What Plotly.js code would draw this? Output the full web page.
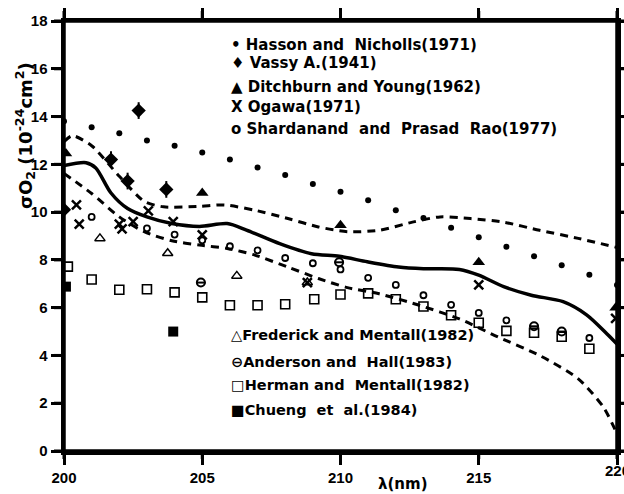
<!DOCTYPE html>
<html><head><meta charset="utf-8">
<script src="https://cdn.plot.ly/plotly-3.0.1.min.js"></script>
<style>html,body{margin:0;padding:0;background:#fff}#chart{width:624px;height:494px}</style>
</head><body><div id="chart"></div>
<script>
// Hasson and Nicholls (1971)
const hassonX = [200,201,202,203,204,205,206,207,208,209,210,211,212,213,214,215,216,217,218,219,220];
const hassonY = [13.8,13.55,13.3,13.0,12.78,12.5,12.2,11.87,11.55,11.18,10.85,10.5,10.08,9.75,9.35,8.95,8.55,8.15,7.78,7.38,6.95];
// Vassy A. (1941)
const vassyX = [200,201.7,202.3,202.7,203.7];
const vassyY = [10.1,12.2,11.3,14.25,10.95];
// Ditchburn and Young (1962)
const ditchX = [200.07,205,210,215,219.95];
const ditchY = [12.45,10.8,9.45,7.9,6.0];
// Ogawa (1971)
const ogawaX = [200.45,200.55,202.0,202.1,202.5,203.05,203.95,205,208.8,215,219.95];
const ogawaY = [10.3,9.5,9.5,9.3,9.6,10.05,9.6,9.05,7.05,6.95,5.55];
// Shardanand and Prasad Rao (1977)
const shardX = [201.0,203,204,205,206,207,208,209,210,211,212,213,214,215,216,219];
const shardY = [9.8,9.32,9.06,8.82,8.57,8.4,8.08,7.86,7.6,7.25,6.95,6.52,6.12,5.78,5.47,4.73];
// Frederick and Mentall (1982)
const fredX = [201.3,203.75,206.25,208.8];
const fredY = [8.9,8.28,7.33,7.05];
// Anderson and Hall (1983)
const andX = [204.95,209.95,217,218];
const andY = [7.05,7.9,5.22,5.0];
// Herman and Mentall (1982)
const hermX = [200.14,201,202,203,204,205,206,207,208,209.05,210,211,212,213,214,215,216,217,218,219];
const hermY = [7.72,7.18,6.75,6.77,6.64,6.43,6.1,6.1,6.14,6.35,6.55,6.6,6.35,6.05,5.68,5.37,5.03,4.95,4.78,4.28];
// Chueng et al. (1984)
const chuengX = [200.07,203.95];
const chuengY = [6.88,5.0];
// Solid (recommended) curve
const solidX = [200,200.8,201.15,201.7,202.3,203,203.9,204.9,205.9,206.6,207.8,208.95,209.96,210.97,212.1,213,214.3,215,215.9,216.9,218.05,218.9,219.64,220];
const solidY = [11.95,12.07,11.85,10.8,10.15,9.8,9.52,9.4,9.52,9.25,8.68,8.26,8.15,7.92,7.7,7.63,7.6,7.36,6.88,6.52,6.25,5.7,4.9,4.48];
// Upper dashed curve
const upX = [200,200.3,201,202,202.9,203.6,204.9,205.8,206.9,208.1,209.2,210.25,211.4,212.6,213.6,214.7,215.9,217.2,218.6,220];
const upY = [12.95,13.2,12.78,11.5,10.45,10.22,10.24,10.3,10.08,9.73,9.38,9.18,9.24,9.58,9.8,9.73,9.58,9.24,8.9,8.52];
// Lower dashed curve
const loX = [200,201,202,202.9,203.9,204.9,205.9,206.9,208.1,209.2,210.25,211.4,212.85,214.3,215.7,217.2,218.6,219.5,219.95];
const loY = [11.62,10.78,9.8,9.18,8.8,8.62,8.48,8.2,7.7,7.22,6.84,6.58,6.1,5.53,4.77,4.0,3.02,1.85,0.85];

const xTicks = [200,205,210,215,220];
const yTicks = [0,2,4,6,8,10,12,14,16,18];
const legendTop = ["• Hasson and  Nicholls(1971)","♦ Vassy A.(1941)","▲ Ditchburn and Young(1962)","X Ogawa(1971)","o Shardanand  and  Prasad  Rao(1977)"];
const legendBottom = ["△Frederick and Mentall(1982)","⊖Anderson and  Hall(1983)","□Herman and  Mentall(1982)","■Chueng  et  al.(1984)"];

const K = '#000';
const traces = [
  {x: upX, y: upY, mode:'lines', line:{color:K, width:3, dash:'8px,6px', shape:'spline', smoothing:0.7}},
  {x: loX, y: loY, mode:'lines', line:{color:K, width:3, dash:'8px,6px', shape:'spline', smoothing:0.7}},
  {x: solidX, y: solidY, mode:'lines', line:{color:K, width:3.5, shape:'spline', smoothing:0.8}},
  {x: hassonX, y: hassonY, mode:'markers', marker:{symbol:'circle', size:6, color:K}},
  {x: vassyX, y: vassyY, mode:'markers', marker:{symbol:'diamond', size:11, color:K},
    error_y:{type:'constant', value:0.35, width:0, thickness:2, color:K}},
  {x: ditchX, y: ditchY, mode:'markers', marker:{symbol:'triangle-up', size:11, color:K}},
  {x: ogawaX, y: ogawaY, mode:'markers', marker:{symbol:'x-thin-open', size:9, color:K, line:{width:2.5, color:K}}},
  {x: shardX, y: shardY, mode:'markers', marker:{symbol:'circle-open', size:6, color:K, line:{width:1.8, color:K}}},
  {x: fredX, y: fredY, mode:'markers', marker:{symbol:'triangle-up-open', size:9, color:K, line:{width:1.5, color:K}}},
  {x: andX, y: andY, mode:'markers', marker:{symbol:'circle-open', size:8, color:K, line:{width:2, color:K}}},
  {x: andX, y: andY, mode:'markers', marker:{symbol:'line-ew-open', size:7, color:K, line:{width:2, color:K}}},
  {x: hermX, y: hermY, mode:'markers', marker:{symbol:'square-open', size:9, color:K, line:{width:1.6, color:K}}},
  {x: chuengX, y: chuengY, mode:'markers', marker:{symbol:'square', size:10, color:K}}
].map(t => Object.assign({showlegend:false, hoverinfo:'skip'}, t));

const L = 64, R = 617, T = 21, B = 451;
const X0 = 200, X1 = 220, Y0 = 0, Y1 = 18;
const px = v => (v - L) / (R - L);
const py = v => (B - v) / (B - T);
const annFont = (s) => ({family:'DejaVu Sans, Liberation Sans, sans-serif', size:s, color:K});
const annotations = [];
const topY = [45,63,87,107,129];
legendTop.forEach((t,i) => annotations.push({xref:'paper', yref:'paper', x:px(229), y:py(topY[i]), xanchor:'left', yanchor:'middle', text:'<b>'+t+'</b>', showarrow:false, font:annFont(15)}));
const botY = [335,362,385,410];
legendBottom.forEach((t,i) => annotations.push({xref:'paper', yref:'paper', x:px(229), y:py(botY[i]), xanchor:'left', yanchor:'middle', text:'<b>'+t+'</b>', showarrow:false, font:annFont(14.5)}));
annotations.push({xref:'paper', yref:'paper', x:px(403), y:py(484), xanchor:'center', yanchor:'middle', text:'<b>λ(nm)</b>', showarrow:false, font:annFont(15)});
annotations.push({xref:'paper', yref:'paper', x:px(25), y:py(136), xanchor:'center', yanchor:'middle', textangle:-90, text:'<b>σO<sub>2</sub> (10<sup>-24</sup>cm<sup>2</sup>)</b>', showarrow:false, font:annFont(18)});
annotations.push({xref:'x', yref:'paper', x:xTicks[xTicks.length-1], y:py(470), xanchor:'center', yanchor:'middle', text:'<b>'+xTicks[xTicks.length-1]+'</b>', showarrow:false,
  font:{family:'Liberation Sans, Arial, sans-serif', size:15, color:K}});

const tl = 10 / (R - L), tv = 10 / (B - T);
const fx = v => (v - X0) / (X1 - X0), fy = v => (v - Y0) / (Y1 - Y0);
const shapes = [];
yTicks.forEach(v => {
  shapes.push({type:'line', xref:'paper', yref:'paper', x0:-tl, x1:0, y0:fy(v), y1:fy(v), line:{color:K, width:3}, layer:'above'});
  shapes.push({type:'line', xref:'paper', yref:'paper', x0:1, x1:1+tl, y0:fy(v), y1:fy(v), line:{color:K, width:3}, layer:'above'});
});
xTicks.forEach(v => {
  shapes.push({type:'line', xref:'paper', yref:'paper', x0:fx(v), x1:fx(v), y0:1, y1:1+tv, line:{color:K, width:3}, layer:'above'});
  shapes.push({type:'line', xref:'paper', yref:'paper', x0:fx(v), x1:fx(v), y0:0, y1:-tv*0.8, line:{color:K, width:3}, layer:'above'});
});
shapes.push({type:'rect', xref:'paper', yref:'paper', x0:0, x1:1, y0:0, y1:1, line:{color:K, width:3.5}, layer:'above'});

const axBase = {showgrid:false, zeroline:false, showline:true, linecolor:K, linewidth:3.5, mirror:'ticks', ticks:'outside', ticklen:10, tickwidth:3, tickcolor:K,
  tickfont:{family:'Liberation Sans, Arial, sans-serif', size:15, color:K}};
const layout = {
  width:624, height:494,
  margin:{l:L, r:624-R, t:T, b:494-B},
  xaxis: Object.assign({}, axBase, {range:[X0,X1], tickvals:xTicks, ticktext:xTicks.map(v => '<b>'+v+'</b>')}),
  yaxis: Object.assign({}, axBase, {range:[Y0,Y1], tickvals:yTicks, ticktext:yTicks.map(v => '<b>'+v+'</b>')}),
  shapes: shapes,
  annotations: annotations
};
Plotly.newPlot('chart', traces, layout, {staticPlot:true, displayModeBar:false});
</script></body></html>
